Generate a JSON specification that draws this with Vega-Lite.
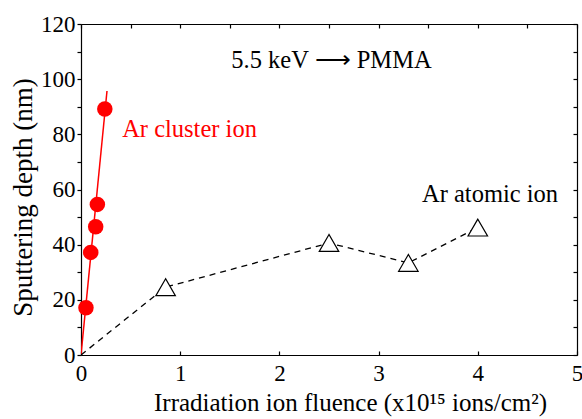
{
  "$schema": "https://vega.github.io/schema/vega-lite/v6.json",
  "width": 496,
  "height": 331,
  "autosize": {"type": "none"},
  "padding": {"left": 81, "top": 24, "right": 5, "bottom": 64},
  "background": "white",
  "config": {
    "view": {"stroke": null},
    "font": "Liberation Serif",
    "axis": {
      "grid": false,
      "domainColor": "black",
      "domainWidth": 1.2,
      "tickColor": "black",
      "tickWidth": 1.2,
      "labelFont": "Liberation Serif",
      "labelFontSize": 23,
      "labelColor": "black",
      "titleFont": "Liberation Serif",
      "titleFontSize": 25,
      "titleFontWeight": "normal",
      "titleColor": "black"
    }
  },
  "datasets": {
    "fit": [
      {"fluence": 0, "depth": 0},
      {"fluence": 0.262, "depth": 95.7}
    ],
    "cluster": [
      {"fluence": 0.05, "depth": 17.1},
      {"fluence": 0.098, "depth": 37.2},
      {"fluence": 0.148, "depth": 46.5},
      {"fluence": 0.165, "depth": 54.6},
      {"fluence": 0.24, "depth": 89.2}
    ],
    "atomic": [
      {"fluence": 0, "depth": 0},
      {"fluence": 0.853, "depth": 24.6},
      {"fluence": 2.5, "depth": 40.6},
      {"fluence": 3.3, "depth": 33.4},
      {"fluence": 4.0, "depth": 46.2}
    ],
    "notes": [
      {"fluence": 2.525, "depth": 103.9, "text": "5.5 keV  \u27f6 PMMA", "series": "title"},
      {"fluence": 1.094, "depth": 79.0, "text": "Ar cluster ion", "series": "cluster"},
      {"fluence": 4.123, "depth": 55.6, "text": "Ar atomic ion", "series": "atomic"}
    ]
  },
  "resolve": {"axis": {"x": "independent", "y": "independent"}},
  "layer": [
    {
      "data": {"name": "fit"},
      "mark": {"type": "line", "color": "#ff0000", "strokeWidth": 1.5, "clip": true},
      "encoding": {
        "x": {
          "field": "fluence", "type": "quantitative",
          "scale": {"domain": [0, 5], "nice": false, "zero": false},
          "axis": {
            "orient": "bottom",
            "title": "Irradiation ion fluence (x10\u00b9\u2075 ions/cm\u00b2)",
            "values": [0, 0.5, 1, 1.5, 2, 2.5, 3, 3.5, 4, 4.5, 5],
            "format": "d",
            "labelExpr": "datum.value % 1 === 0 ? datum.label : ''",
            "tickSize": -4,
            "labelPadding": 11,
            "titleX": 269,
            "titleY": 55,
            "titleBaseline": "alphabetic",
            "labelFlush": false,
            "labelOverlap": false
          }
        },
        "y": {
          "field": "depth", "type": "quantitative",
          "scale": {"domain": [0, 120], "nice": false, "zero": false},
          "axis": {
            "orient": "left",
            "title": "Sputtering depth (nm)",
            "titleFontSize": 27,
            "values": [0, 10, 20, 30, 40, 50, 60, 70, 80, 90, 100, 110, 120],
            "format": "d",
            "labelExpr": "datum.value % 20 === 0 ? datum.label : ''",
            "tickSize": 4,
            "labelPadding": 2,
            "titleX": -50,
            "titleY": 173,
            "titleBaseline": "alphabetic",
            "labelFlush": false,
            "labelOverlap": false
          }
        }
      }
    },
    {
      "data": {"name": "atomic"},
      "mark": {"type": "line", "color": "black", "strokeWidth": 1.3, "strokeDash": [6, 5], "clip": true},
      "encoding": {
        "x": {
          "field": "fluence", "type": "quantitative",
          "axis": {
            "orient": "top", "title": null, "labels": false,
            "values": [0, 0.5, 1, 1.5, 2, 2.5, 3, 3.5, 4, 4.5, 5],
            "tickSize": -4
          }
        },
        "y": {
          "field": "depth", "type": "quantitative",
          "axis": {
            "orient": "right", "title": null, "labels": false,
            "values": [0, 10, 20, 30, 40, 50, 60, 70, 80, 90, 100, 110, 120],
            "tickSize": -4
          }
        }
      }
    },
    {
      "data": {"name": "atomic"},
      "transform": [{"filter": "datum.fluence > 0"}],
      "mark": {"type": "point", "shape": "triangle-up", "filled": true, "fill": "white", "stroke": "black", "strokeWidth": 1.2, "size": 380, "opacity": 1},
      "encoding": {
        "x": {"field": "fluence", "type": "quantitative", "axis": null},
        "y": {"field": "depth", "type": "quantitative", "axis": null}
      }
    },
    {
      "data": {"name": "cluster"},
      "mark": {"type": "circle", "color": "#ff0000", "size": 240, "opacity": 1},
      "encoding": {
        "x": {"field": "fluence", "type": "quantitative", "axis": null},
        "y": {"field": "depth", "type": "quantitative", "axis": null}
      }
    },
    {
      "data": {"name": "notes"},
      "mark": {"type": "text", "font": "Liberation Serif", "fontSize": 24.5, "align": "center", "baseline": "alphabetic"},
      "encoding": {
        "x": {"field": "fluence", "type": "quantitative", "axis": null},
        "y": {"field": "depth", "type": "quantitative", "axis": null},
        "text": {"field": "text"},
        "color": {
          "field": "series", "type": "nominal", "legend": null,
          "scale": {"domain": ["title", "cluster", "atomic"], "range": ["black", "#ff0000", "black"]}
        }
      }
    }
  ]
}
